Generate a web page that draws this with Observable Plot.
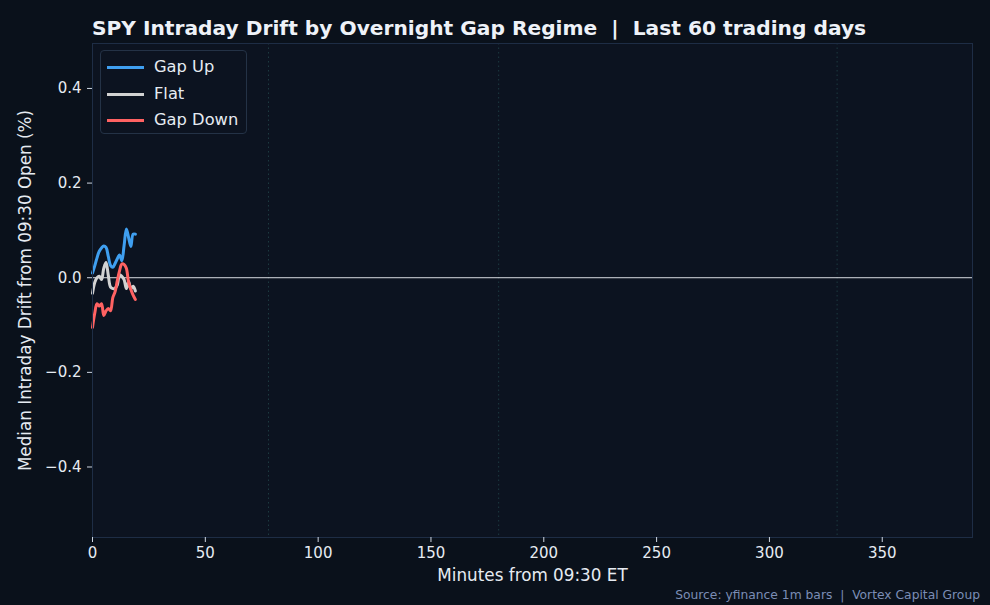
<!DOCTYPE html>
<html>
<head>
<meta charset="utf-8">
<script src="https://cdn.jsdelivr.net/npm/d3@7"></script>
<script src="https://cdn.jsdelivr.net/npm/@observablehq/plot@0.6"></script>
<style>
  html, body { margin: 0; padding: 0; background: #0a111b; }
  body { width: 990px; height: 605px; overflow: hidden; font-family: "DejaVu Sans", sans-serif; }
  #wrap { position: relative; width: 990px; height: 605px; }
  #title { height: 43px; box-sizing: border-box; padding-left: 92px; padding-top: 16px; color: #eef2f8; font-weight: bold; font-size: 20.2px; line-height: 24px; white-space: pre; }
  #caption { height: 17px; text-align: right; padding-right: 10px; color: #7b8db5; font-size: 12.3px; line-height: 14px; white-space: pre; }
  #legend { position: absolute; left: 100px; top: 50px; width: 145px; height: 82px; border: 1px solid #243246; border-radius: 4px; background: #0c1320; }
  .row { position: absolute; left: 0; height: 20px; width: 145px; }
  .sw { position: absolute; left: 6px; top: 9px; width: 37px; height: 3px; }
  .lb { position: absolute; left: 53px; top: 0; font-size: 16.3px; line-height: 20px; color: #e6ebf2; }
  svg { display: block; }
</style>
</head>
<body>
<div id="wrap">
  <div id="title">SPY Intraday Drift by Overnight Gap Regime  |  Last 60 trading days</div>
  <div id="chart"></div>
  <div id="caption">Source: yfinance 1m bars  |  Vortex Capital Group</div>
  <div id="legend"></div>
</div>
<script>
const minutes = [0,1,2,3,4,5,6,7,8,9,10,11,12,13,14,15,16,17,18,19];
const gapUp   = [0.010,0.025,0.042,0.056,0.063,0.067,0.064,0.045,0.026,0.022,0.030,0.040,0.048,0.036,0.068,0.103,0.085,0.066,0.092,0.092];
const flat    = [-0.033,-0.010,0.000,0.003,-0.004,0.020,0.032,0.005,-0.020,-0.023,-0.022,-0.015,0.006,0.003,-0.004,-0.023,-0.008,-0.023,-0.018,-0.028];
const gapDown = [-0.105,-0.075,-0.055,-0.060,-0.055,-0.080,-0.070,-0.065,-0.070,-0.042,-0.030,-0.006,0.015,0.029,0.028,0.020,-0.010,-0.025,-0.037,-0.046];
const seriesNames = ["Gap Up","Flat","Gap Down"];
const seriesColors = ["#3f9ff0","#d2d2d2","#ff6262"];
const markerMinutes = [78,180,330];
const xTicks = [0,50,100,150,200,250,300,350];
const yTicks = [-0.4,-0.2,0.0,0.2,0.4];

const seriesVals = [gapUp, flat, gapDown];
const rows = [];
seriesNames.forEach((name, i) => {
  minutes.forEach((m, j) => rows.push({series: name, minute: m, value: seriesVals[i][j]}));
});

const chart = Plot.plot({
  width: 990,
  height: 545,
  marginLeft: 92,
  marginRight: 18,
  marginTop: 0,
  marginBottom: 51,
  style: {background: "#0a111b", color: "#e6ebf2", fontFamily: "DejaVu Sans, sans-serif", fontSize: "15px"},
  x: {domain: [0, 390], label: null},
  y: {domain: [-0.549, 0.495], label: null},
  color: {domain: seriesNames, range: seriesColors},
  marks: [
    Plot.frame({fill: "#0c1320", stroke: null}),
    Plot.ruleX(markerMinutes, {stroke: "#1d3a40", strokeWidth: 1, strokeDasharray: "1.5,3"}),
    Plot.ruleY([0], {stroke: "#f2f4f8", strokeWidth: 0.9}),
    Plot.line(rows, {x: "minute", y: "value", z: "series", stroke: "series", strokeWidth: 3, curve: "catmull-rom"}),
    Plot.frame({stroke: "#1e2d45", strokeWidth: 1}),
    Plot.axisX({ticks: xTicks, label: null, tickSize: 5, tickPadding: 5, stroke: "#cfd6e2", fill: "#e6ebf2", fontSize: 15}),
    Plot.axisX({ticks: [], label: "Minutes from 09:30 ET", labelAnchor: "center", labelArrow: "none", labelOffset: 43, fill: "#e6ebf2", fontSize: 16.8}),
    Plot.axisY({ticks: yTicks, label: null, tickSize: 5, tickPadding: 6, tickFormat: d3.format(".1f"), stroke: "#cfd6e2", fill: "#e6ebf2", fontSize: 15}),
    Plot.axisY({ticks: [], label: "Median Intraday Drift from 09:30 Open (%)", labelAnchor: "center", labelArrow: "none", labelOffset: 73, fill: "#e6ebf2", fontSize: 16.8})
  ]
});
document.getElementById("chart").appendChild(chart);

const legend = document.getElementById("legend");
seriesNames.forEach((name, i) => {
  const r = document.createElement("div");
  r.className = "row";
  r.style.top = (6 + i * 26.5) + "px";
  r.innerHTML = `<div class="sw" style="background:${seriesColors[i]}"></div><div class="lb">${name}</div>`;
  legend.appendChild(r);
});
</script>
</body>
</html>
